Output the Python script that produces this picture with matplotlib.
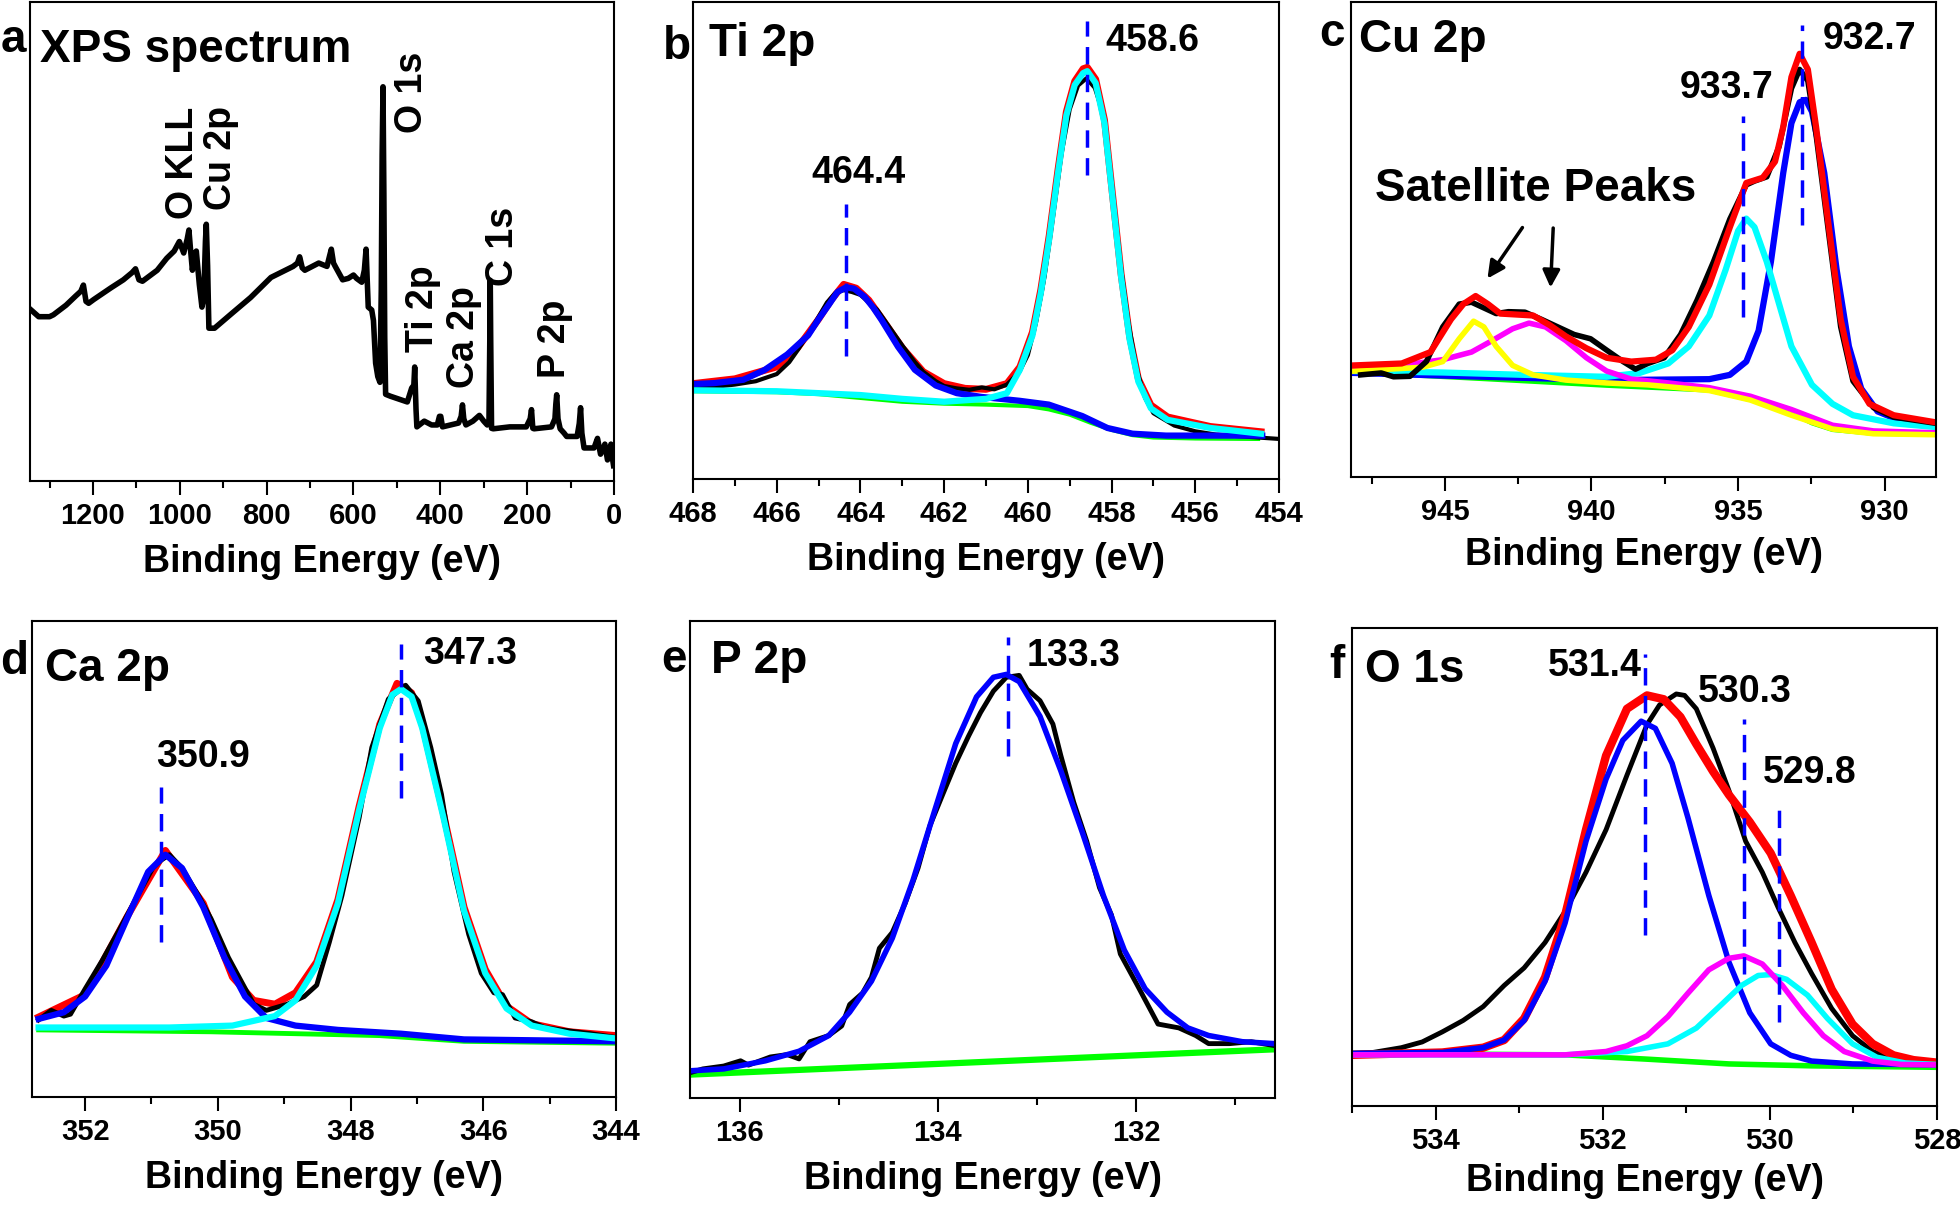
import matplotlib
matplotlib.use('Agg')
import matplotlib.pyplot as plt
from matplotlib import font_manager
from matplotlib.ticker import MultipleLocator

# fonts: bold Arial look-alikes, narrow one for ticks/axis labels if present
names = {f.name for f in font_manager.fontManager.ttflist}
if 'Liberation Sans Narrow' in names:
    NARROW, TICK_FS, XLAB_FS = 'Liberation Sans Narrow', 24.5, 32
else:
    NARROW, TICK_FS, XLAB_FS = 'Liberation Sans', 21, 27
BOLD = 'Liberation Sans'

BLACK, RED, BLUE, CYAN = '#000000', '#ff0000', '#0000ff', '#00ffff'
GREEN, MAGENTA, YELLOW = '#00ff00', '#ff00ff', '#ffff00'

# ---------------------------------------------------------------- a: survey
a_ev = [1345, 1325, 1300, 1291, 1262, 1240, 1228, 1222, 1216, 1210, 1198, 1159, 1130, 1110, 1102,
        1094, 1086, 1052, 1030, 1013, 1001, 991, 983, 979, 975, 971, 966, 962, 955, 949, 945, 941,
        939, 936, 933, 920, 880, 837, 790, 739, 729, 724, 718, 712, 680, 661, 655, 651, 646, 642,
        625, 612, 600, 593, 581, 575, 571, 566, 558, 554, 549, 544, 539, 536, 534, 532, 530, 528,
        526, 515, 476, 466, 461, 459, 456, 454, 437, 420, 407, 402, 399, 395, 358, 352, 349, 346,
        341, 325, 310, 300, 292, 288, 286, 285, 284, 282, 278, 240, 202, 193, 190, 187, 184, 144,
        136, 134, 132, 129, 124, 115, 109, 85, 80, 77, 74, 69, 46, 38, 34, 31, 26, 21, 15, 10, 7, 4, 1]
a_int = [35.9, 34.3, 34.3, 34.7, 36.7, 38.6, 39.6, 40.9, 37.5, 37.1, 37.9, 40.3, 42.0, 43.5, 44.3,
         42.0, 41.7, 44.0, 46.5, 48.0, 50.0, 47.6, 50.5, 52.4, 48.0, 44.0, 47.5, 48.0, 41.0, 36.3, 38.0, 50.0,
         53.6, 45.0, 31.9, 31.9, 35.0, 38.3, 42.5, 44.8, 45.5, 46.8, 44.5, 44.0, 45.5, 44.8, 47.0, 48.4, 45.5, 44.8,
         42.0, 42.3, 43.0, 42.3, 41.5, 44.0, 48.4, 36.3, 35.7, 33.5, 24.6, 21.8, 20.6, 40.0, 68.1, 82.3, 60.0, 30.0,
         18.1, 17.7, 16.5, 19.4, 20.0, 23.8, 15.0, 11.3, 12.5, 11.7, 11.7, 13.5, 13.5, 11.3, 12.1, 13.5, 15.9, 13.0,
         11.7, 12.5, 13.7, 12.5, 11.7, 12.0, 30.0, 41.9, 30.0, 11.0, 10.9, 11.3, 11.3, 13.0, 14.9, 11.0, 10.9, 11.3,
         13.0, 16.0, 18.0, 13.0, 10.9, 10.0, 9.3, 9.3, 12.0, 15.3, 10.0, 6.9, 6.9, 8.9, 7.0, 5.6, 6.5, 7.7, 4.4, 5.5, 7.7, 5.0, 3.2]
a_tags = ['O KLL', 'Cu 2p', 'O 1s', 'Ti 2p', 'Ca 2p', 'C 1s', 'P 2p']
a_tag_ev = [993, 905, 466, 441, 346, 256, 136]
a_tag_y = [54.8, 56.5, 72.6, 27.0, 19.4, 40.7, 21.4]

# ---------------------------------------------------------------- b: Ti 2p
b_black_ev = [468, 467.5, 467, 466.5, 466, 465.7, 465.5, 465.2, 465, 464.8, 464.6, 464.4, 464.2, 464.0,
              463.8, 463.6, 463.4, 463.2, 463, 462.7, 462.5, 462.2, 462, 461.7, 461.4, 461.1, 460.8,
              460.5, 460.2, 460, 459.8, 459.6, 459.4, 459.2, 459.0, 458.8, 458.6, 458.4, 458.2, 458.0,
              457.8, 457.6, 457.4, 457.2, 457.0, 456.5, 456, 455.5, 455, 454.5, 454]
b_black = [19.5, 19.3, 19.8, 20.5, 22.0, 24.5, 27.0, 31.0, 34.0, 37.0, 39.0, 39.6, 39.2, 38.6,
           37.0, 35.5, 33.0, 30.5, 28.0, 24.5, 22.5, 20.5, 19.5, 19.0, 18.7, 19.2, 18.8,
           19.8, 22.5, 26.0, 33.0, 42.5, 55.0, 68.0, 77.5, 82.5, 84.0, 82.0, 76.5, 62.5,
           46.0, 33.0, 23.0, 17.0, 13.8, 11.2, 10.0, 9.3, 9.0, 8.7, 8.4]
b_red_ev = [468, 467, 466, 465.5, 465, 464.7, 464.4, 464.1, 463.8, 463.5, 463, 462.5, 462, 461.5, 461,
            460.5, 460.19, 459.89, 459.69, 459.49, 459.28, 459.08, 458.88, 458.68, 458.58, 458.38,
            458.17, 457.97, 457.77, 457.57, 457.36, 457.06, 456.66, 455.64, 454.43]
b_red = [20.0, 21.0, 23.5, 27.5, 33.5, 37.5, 40.8, 40.0, 37.5, 33.8, 27.5, 22.5, 20.0, 19.0, 18.8,
         20.0, 23.5, 30.8, 39.7, 51.0, 64.8, 77.0, 83.4, 86.0, 86.3, 83.8,
         75.3, 59.0, 42.8, 30.0, 21.0, 15.5, 13.0, 11.0, 9.9]
b_blue_ev = [468, 467.5, 466.8, 466.3, 465.75, 465.25, 465.0, 464.75, 464.55, 464.34, 464.15, 463.9,
             463.7, 463.5, 463.1, 462.7, 462.2, 461.7, 461.1, 460.2, 459.5, 458.7, 458.1, 457.5, 456.7, 454.4]
b_blue = [19.9, 20.1, 20.8, 22.8, 26.1, 30.1, 33.5, 36.6, 39.2, 40.2, 39.9, 38.2,
          36.0, 33.4, 27.7, 22.9, 19.6, 18.0, 17.2, 16.4, 15.6, 13.2, 10.7, 9.5, 9.1, 9.1]
b_cyan_ev = [468, 466, 464, 463, 462, 461, 460.5, 460.19, 459.89, 459.69, 459.49, 459.28, 459.08,
             458.88, 458.68, 458.58, 458.38, 458.17, 457.97, 457.77, 457.57, 457.36, 457.06, 456.66,
             455.64, 454.43]
b_cyan = [18.6, 18.4, 17.6, 16.8, 16.2, 16.8, 18.0, 22.9, 30.1, 39.0, 50.3, 64.1, 76.2,
          82.6, 85.1, 85.5, 83.0, 74.6, 58.4, 42.2, 29.3, 20.4, 14.8, 12.4, 10.7, 9.5]
b_green_ev = [468, 466, 465, 464, 463, 462, 461, 460, 459.5, 459, 458.5, 458, 457.5, 457, 456, 454.5]
b_green = [18.4, 18.2, 17.8, 17.0, 16.2, 15.8, 15.6, 15.3, 14.6, 13.5, 11.8, 10.3, 9.2, 8.7, 8.5, 8.4]
b_mark_ev = [464.35, 458.58]
b_mark_lo = [25.7, 63.7]
b_mark_hi = [57.6, 96.0]
b_labels = ['464.4', '458.6']
b_label_ev = [464.04, 457.03]
b_label_y = [64.1, 91.9]

# ---------------------------------------------------------------- c: Cu 2p
c_black_ev = [947.87, 947.17, 946.75, 946.19, 945.63, 945.07, 944.51, 944.09, 943.67, 943.25, 942.83,
              942.27, 941.71, 941.15, 940.59, 940.03, 939.48, 938.92, 938.5, 938.08, 937.52, 936.96,
              936.4, 935.84, 935.28, 934.72, 934.44, 934.02, 933.6, 933.18, 932.9, 932.62, 932.34,
              931.92, 931.5, 931.08, 930.38, 929.69, 928.25]
c_black = [21.5, 21.9, 21.1, 21.2, 24.3, 31.6, 36.4, 36.8, 35.6, 34.4, 34.8,
           34.7, 33.2, 31.6, 30.0, 29.1, 26.7, 24.3, 22.7, 23.9, 25.1, 30.0,
           37.2, 45.3, 54.3, 61.5, 62.3, 63.2, 69.6, 81.8, 85.8, 83.4, 72.1,
           51.8, 31.6, 20.2, 14.6, 12.6, 11.3]
c_red_ev = [948.08, 946.47, 945.49, 944.79, 944.37, 943.95, 943.53, 943.11, 942.55, 941.99, 941.43,
            940.87, 940.17, 939.48, 938.64, 937.8, 937.24, 936.68, 935.98, 935.28, 934.72, 934.16,
            933.74, 933.46, 933.18, 932.9, 932.62, 932.34, 931.92, 931.5, 931.08, 930.52, 929.69, 928.25]
c_red = [23.5, 23.9, 26.3, 33.2, 36.4, 38.1, 36.4, 34.4, 34.2, 34.0, 32.0,
         29.6, 27.1, 25.1, 24.3, 24.7, 26.7, 31.6, 40.5, 52.6, 61.9, 63.0,
         66.4, 73.7, 84.2, 89.1, 85.8, 73.7, 53.4, 33.2, 21.1, 15.4, 13.0, 11.5]
c_blue_ev = [948.08, 943.67, 939.48, 935.98, 935.28, 934.72, 934.3, 933.88, 933.46, 933.18, 932.9,
             932.69, 932.48, 932.06, 931.64, 931.22, 930.8, 930.24, 929.41, 928.25]
c_blue = [21.9, 21.1, 20.4, 20.6, 21.5, 24.3, 30.8, 45.3, 64.0, 74.5, 78.9,
          79.4, 76.9, 64.0, 43.7, 27.5, 18.6, 13.8, 11.7, 10.7]
c_cyan_ev = [948.08, 945.07, 942.27, 939.48, 938.36, 937.38, 936.68, 935.98, 935.42, 935.0, 934.72,
             934.44, 934.02, 933.6, 933.18, 932.48, 931.78, 931.08, 929.69, 928.25]
c_cyan = [22.3, 22.0, 21.5, 21.1, 21.9, 23.9, 27.5, 34.0, 43.7, 51.8, 54.4,
          52.6, 45.3, 36.4, 27.5, 19.4, 15.4, 13.0, 11.3, 10.5]
c_mag_ev = [948.08, 946.47, 945.07, 944.09, 943.39, 942.69, 942.13, 941.57, 940.87, 940.17, 939.48,
            938.64, 937.38, 935.98, 934.58, 933.18, 931.78, 930.38, 928.25]
c_mag = [22.7, 23.5, 24.7, 26.3, 28.7, 31.2, 32.4, 31.6, 28.7, 25.1, 22.3,
         20.6, 19.8, 18.8, 17.0, 14.2, 10.9, 9.7, 9.3]
c_yel_ev = [948.08, 945.77, 945.07, 944.51, 944.02, 943.67, 943.25, 942.69, 941.99, 940.87, 939.48,
            938.08, 935.98, 934.58, 933.18, 931.78, 930.38, 928.25]
c_yel = [22.3, 23.1, 24.3, 29.1, 32.8, 31.6, 27.5, 23.5, 21.5, 20.4, 19.8,
         19.4, 18.2, 16.2, 13.0, 10.1, 9.1, 8.9]
c_green_ev = [948.08, 943.67, 939.48, 935.98, 934.58, 933.18, 932.48, 931.78, 930.38, 928.25]
c_green = [22.0, 20.6, 19.2, 18.2, 16.2, 13.4, 11.3, 9.9, 9.1, 8.9]
c_mark_ev = [932.83, 934.83]
c_mark_lo = [53.0, 33.6]
c_mark_hi = [95.1, 76.1]
c_labels = ['932.7', '933.7']
c_label_ev = [930.5, 935.4]
c_label_y = [92.3, 81.8]

# ---------------------------------------------------------------- d: Ca 2p
d_black_ev = [352.7, 352.51, 352.32, 352.22, 352.0, 351.75, 351.49, 351.24, 350.98, 350.86, 350.73,
              350.54, 350.29, 350.1, 349.84, 349.65, 349.46, 349.27, 348.95, 348.7, 348.51, 348.32,
              348.13, 347.87, 347.68, 347.43, 347.17, 346.98, 346.79, 346.63, 346.44, 346.22, 346.03,
              345.84, 345.71, 345.52, 345.27, 345.08, 344.83, 344.38, 344.0]
d_black = [16.2, 18.2, 17.0, 17.4, 22.7, 28.5, 35.0, 41.5, 48.1, 49.7, 50.9,
           48.1, 42.3, 37.4, 29.3, 24.4, 19.5, 18.2, 19.5, 21.1, 23.5, 32.5,
           42.3, 58.7, 73.4, 83.6, 86.5, 83.2, 73.4, 63.6, 47.3, 34.2, 26.0,
           21.9, 21.5, 16.6, 15.8, 14.6, 14.1, 13.3, 12.5]
d_red_ev = [352.7, 352.0, 351.37, 350.79, 350.22, 349.78, 349.46, 349.14, 348.83, 348.51, 348.19,
            347.87, 347.56, 347.3, 347.08, 346.92, 346.6, 346.29, 345.97, 345.65, 345.27, 344.7, 344.0]
d_red = [16.8, 21.5, 37.8, 51.8, 40.7, 25.2, 20.3, 19.5, 21.9, 28.4, 41.5,
         61.1, 78.3, 86.9, 84.9, 78.3, 59.5, 39.9, 26.8, 19.1, 15.4, 13.7, 12.9]
d_blue_ev = [352.7, 352.32, 352.0, 351.68, 351.37, 351.05, 350.79, 350.54, 350.22, 349.9, 349.59,
             349.27, 348.83, 348.19, 347.24, 346.29, 344.0]
d_blue = [16.4, 17.8, 21.1, 27.6, 37.4, 47.3, 50.9, 48.1, 39.9, 29.3, 21.1,
          16.6, 15.0, 14.1, 13.3, 12.1, 11.7]
d_cyan_ev = [352.7, 350.73, 349.78, 349.14, 348.83, 348.51, 348.19, 347.87, 347.56, 347.37, 347.24,
             347.08, 346.92, 346.6, 346.29, 345.97, 345.65, 345.27, 344.7, 344.0]
d_cyan = [14.6, 14.6, 15.0, 17.0, 20.3, 27.6, 40.7, 60.3, 77.5, 84.5, 85.7,
          84.1, 77.5, 58.7, 39.1, 26.0, 18.6, 15.0, 13.3, 12.3]
d_green_ev = [352.7, 350.1, 347.56, 346.29, 344.0]
d_green = [14.1, 13.7, 12.9, 11.7, 11.3]
d_mark_ev = [350.86, 347.24]
d_mark_lo = [32.5, 62.8]
d_mark_hi = [65.2, 95.1]
d_labels = ['350.9', '347.3']
d_label_ev = [350.23, 346.2]
d_label_y = [71.4, 93.0]

# ---------------------------------------------------------------- e: P 2p
e_black_ev = [136.5, 136.37, 136.16, 135.99, 135.91, 135.69, 135.52, 135.4, 135.29, 135.1, 134.97,
              134.89, 134.76, 134.67, 134.59, 134.46, 134.33, 134.2, 134.08, 133.95, 133.82, 133.69,
              133.57, 133.44, 133.31, 133.18, 133.1, 132.97, 132.84, 132.76, 132.63, 132.5, 132.37,
              132.25, 132.16, 131.99, 131.78, 131.57, 131.4, 131.27, 131.06, 130.84, 130.61]
e_black = [5.3, 6.1, 6.7, 7.8, 6.9, 8.6, 9.1, 8.2, 11.8, 13.1, 15.1,
           19.6, 22.0, 25.3, 31.4, 34.7, 40.8, 48.2, 57.1, 63.7, 70.2, 75.9,
           80.8, 85.3, 88.2, 88.6, 85.7, 83.3, 78.4, 71.8, 62.0, 53.9, 44.1,
           38.4, 30.2, 23.7, 15.5, 14.7, 13.1, 11.4, 11.4, 11.8, 11.0]
e_blue_ev = [136.5, 136.16, 135.74, 135.4, 135.1, 134.89, 134.67, 134.46, 134.25, 134.03, 133.82,
             133.61, 133.44, 133.31, 133.18, 132.97, 132.76, 132.54, 132.33, 132.12, 131.91, 131.69,
             131.48, 131.27, 130.93, 130.61]
e_blue = [5.7, 6.1, 7.8, 9.8, 13.1, 18.0, 24.5, 33.5, 45.7, 60.4, 74.3,
          84.1, 88.2, 88.8, 87.3, 80.0, 68.6, 55.5, 42.4, 31.0, 22.9, 18.0,
          14.7, 13.1, 11.8, 11.4]
e_green_ev = [136.5, 130.61]
e_green = [4.9, 10.2]
e_mark_ev = [133.29]
e_mark_lo = [71.8]
e_mark_hi = [96.7]
e_labels = ['133.3']
e_label_ev = [132.63]
e_label_y = [92.7]

# ---------------------------------------------------------------- f: O 1s
f_black_ev = [535.01, 534.75, 534.41, 534.16, 533.92, 533.67, 533.43, 533.18, 532.94, 532.69, 532.45,
              532.2, 531.96, 531.71, 531.47, 531.32, 531.12, 531.02, 530.88, 530.68, 530.49, 530.29,
              530.09, 529.9, 529.7, 529.5, 529.26, 529.01, 528.77, 528.43, 528.01]
f_black = [11.0, 11.2, 12.2, 13.4, 15.5, 17.9, 20.8, 25.2, 28.9, 34.2, 40.7,
           48.9, 57.8, 69.2, 79.8, 83.9, 86.2, 85.9, 83.1, 74.9, 66.0, 55.4,
           48.9, 41.5, 34.2, 27.7, 20.4, 14.7, 11.4, 9.4, 8.8]
f_red_ev = [535.01, 533.92, 533.43, 533.18, 532.94, 532.69, 532.45, 532.2, 531.96, 531.71, 531.47,
            531.27, 531.07, 530.88, 530.68, 530.49, 530.24, 529.99, 529.75, 529.5, 529.26, 529.01,
            528.77, 528.52, 528.28, 528.01]
f_red = [10.7, 11.2, 12.2, 13.8, 18.3, 26.9, 39.9, 57.8, 73.3, 83.1, 85.9,
         85.1, 81.4, 75.7, 70.0, 65.1, 59.4, 52.9, 44.0, 34.2, 24.4, 17.1,
         13.0, 10.6, 9.6, 9.1]
f_blue_ev = [535.01, 533.92, 533.43, 533.18, 532.94, 532.69, 532.45, 532.2, 531.96, 531.76, 531.54,
             531.37, 531.17, 530.98, 530.73, 530.49, 530.24, 529.99, 529.75, 529.5, 529.01, 528.01]
f_blue = [11.0, 11.2, 12.2, 13.8, 17.9, 26.1, 38.3, 55.4, 68.4, 76.5, 80.5,
          79.0, 71.7, 60.3, 44.0, 30.1, 19.5, 13.0, 10.6, 9.4, 8.8, 8.6]
f_mag_ev = [535.01, 532.45, 531.96, 531.71, 531.47, 531.22, 530.98, 530.73, 530.49, 530.31, 530.09,
            529.85, 529.6, 529.36, 529.11, 528.77, 528.43, 528.01]
f_mag = [10.7, 10.7, 11.4, 12.6, 14.7, 18.7, 23.6, 28.5, 30.9, 31.4, 29.7,
         25.2, 19.5, 14.7, 11.4, 9.4, 8.7, 8.6]
f_cyan_ev = [535.01, 532.45, 531.71, 531.22, 530.88, 530.58, 530.34, 530.14, 529.99, 529.8, 529.55,
             529.31, 529.01, 528.72, 528.38, 528.01]
f_cyan = [10.7, 10.7, 11.4, 13.0, 16.3, 21.2, 25.2, 27.3, 27.5, 26.5, 23.2,
          18.3, 13.0, 10.2, 9.0, 8.7]
f_green_ev = [535.01, 532.45, 531.47, 530.49, 529.5, 528.01]
f_green = [11.0, 10.7, 9.8, 8.8, 8.4, 8.1]
f_mark_ev = [531.49, 530.31, 529.89]
f_mark_lo = [35.8, 27.7, 17.5]
f_mark_hi = [94.5, 81.0, 63.9]
f_labels = ['531.4', '530.3', '529.8']
f_label_ev = [532.1, 530.3, 529.53]
f_label_y = [92.0, 86.7, 69.6]


def setup(ax, xlim, major, minor, title, tx, ty, lpad=10):
    ax.set_xlim(*xlim)
    ax.set_ylim(0, 100)
    ax.set_yticks([])
    ax.xaxis.set_major_locator(MultipleLocator(major))
    ax.xaxis.set_minor_locator(MultipleLocator(minor))
    ax.tick_params(axis='x', which='major', direction='out', length=10, width=1.5, pad=5)
    ax.tick_params(axis='x', which='minor', direction='out', length=5, width=1.5)
    for lab in ax.get_xticklabels():
        lab.set_fontfamily(NARROW)
        lab.set_fontweight('bold')
        lab.set_fontsize(TICK_FS)
    for sp in ax.spines.values():
        sp.set_linewidth(1.5)
    ax.set_xlabel('Binding Energy (eV)', fontfamily=NARROW, fontweight='bold',
                  fontsize=XLAB_FS, labelpad=lpad)
    ax.text(tx, ty, title, transform=ax.transAxes, fontfamily=BOLD, fontweight='bold',
            fontsize=33, ha='left', va='baseline')


def marks(ax, ev, lo, hi, labels, lev, ly):
    for e, y0, y1 in zip(ev, lo, hi):
        ax.plot([e, e], [y0, y1], color=BLUE, lw=2.5, ls=(0, (5, 3)), zorder=10)
    for t, x, y in zip(labels, lev, ly):
        ax.text(x, y, t, fontfamily=BOLD, fontweight='bold', fontsize=27,
                ha='center', va='center', zorder=11)


fig = plt.figure(figsize=(19.6, 12.07), dpi=100)
W, H = 1960, 1207

def add_axes(l, r, t, b):
    return fig.add_axes([l / W, 1 - b / H, (r - l) / W, (b - t) / H])

ax_a = add_axes(30, 614, 2, 481)
ax_b = add_axes(693, 1279, 2, 479)
ax_c = add_axes(1351, 1936, 2, 477)
ax_d = add_axes(32, 616, 621, 1097)
ax_e = add_axes(690, 1275, 621, 1098)
ax_f = add_axes(1352, 1937, 628, 1106)

# panel a
ax_a.plot(a_ev, a_int, color=BLACK, lw=4)
for t, x, y in zip(a_tags, a_tag_ev, a_tag_y):
    ax_a.text(x, y, t, rotation=90, ha='center', va='bottom', fontfamily=BOLD,
              fontweight='bold', fontsize=27)
ax_a.set_xticks([1200, 1000, 800, 600, 400, 200, 0])
setup(ax_a, (1345, 0), 200, 100, 'XPS spectrum', 0.017, 0.875)

# panel b
ax_b.plot(b_green_ev, b_green, color=GREEN, lw=3)
ax_b.plot(b_red_ev, b_red, color=RED, lw=5)
ax_b.plot(b_black_ev, b_black, color=BLACK, lw=3)
ax_b.plot(b_blue_ev, b_blue, color=BLUE, lw=4.5)
ax_b.plot(b_cyan_ev, b_cyan, color=CYAN, lw=4.5)
marks(ax_b, b_mark_ev, b_mark_lo, b_mark_hi, b_labels, b_label_ev, b_label_y)
setup(ax_b, (468, 454), 2, 1, 'Ti 2p', 0.027, 0.887)

# panel c
ax_c.plot(c_green_ev, c_green, color=GREEN, lw=3)
ax_c.plot(c_blue_ev, c_blue, color=BLUE, lw=4.5)
ax_c.plot(c_cyan_ev, c_cyan, color=CYAN, lw=4.5)
ax_c.plot(c_mag_ev, c_mag, color=MAGENTA, lw=4)
ax_c.plot(c_yel_ev, c_yel, color=YELLOW, lw=4)
ax_c.plot(c_black_ev, c_black, color=BLACK, lw=4)
ax_c.plot(c_red_ev, c_red, color=RED, lw=4.5)
marks(ax_c, c_mark_ev, c_mark_lo, c_mark_hi, c_labels, c_label_ev, c_label_y)
ax_c.text(941.9, 60.7, 'Satellite Peaks', fontfamily=BOLD, fontweight='bold', fontsize=33,
          ha='center', va='center')
ax_c.annotate('', xy=(943.6, 41.3), xytext=(942.3, 53.0),
              arrowprops=dict(arrowstyle='-|>', color=BLACK, lw=2.5, mutation_scale=26))
ax_c.annotate('', xy=(941.4, 39.3), xytext=(941.3, 53.0),
              arrowprops=dict(arrowstyle='-|>', color=BLACK, lw=2.5, mutation_scale=26))
setup(ax_c, (948.2, 928.25), 5, 2.5, 'Cu 2p', 0.014, 0.895, lpad=8)

# panel d
ax_d.plot(d_green_ev, d_green, color=GREEN, lw=3.5)
ax_d.plot(d_red_ev, d_red, color=RED, lw=5)
ax_d.plot(d_black_ev, d_black, color=BLACK, lw=3.5)
ax_d.plot(d_blue_ev, d_blue, color=BLUE, lw=4.5)
ax_d.plot(d_cyan_ev, d_cyan, color=CYAN, lw=4.5)
marks(ax_d, d_mark_ev, d_mark_lo, d_mark_hi, d_labels, d_label_ev, d_label_y)
setup(ax_d, (352.8, 344), 2, 1, 'Ca 2p', 0.022, 0.873)

# panel e
ax_e.plot(e_green_ev, e_green, color=GREEN, lw=4.5)
ax_e.plot(e_black_ev, e_black, color=BLACK, lw=3.5)
ax_e.plot(e_blue_ev, e_blue, color=BLUE, lw=4)
marks(ax_e, e_mark_ev, e_mark_lo, e_mark_hi, e_labels, e_label_ev, e_label_y)
setup(ax_e, (136.5, 130.6), 2, 1, 'P 2p', 0.036, 0.89)

# panel f
ax_f.plot(f_green_ev, f_green, color=GREEN, lw=4)
ax_f.plot(f_black_ev, f_black, color=BLACK, lw=3.5)
ax_f.plot(f_red_ev, f_red, color=RED, lw=6)
ax_f.plot(f_blue_ev, f_blue, color=BLUE, lw=4)
ax_f.plot(f_cyan_ev, f_cyan, color=CYAN, lw=4)
ax_f.plot(f_mag_ev, f_mag, color=MAGENTA, lw=4)
marks(ax_f, f_mark_ev, f_mark_lo, f_mark_hi, f_labels, f_label_ev, f_label_y)
setup(ax_f, (535, 528), 2, 1, 'O 1s', 0.023, 0.888, lpad=6)

# panel letters, right edge just left of each frame
letters = ['a', 'b', 'c', 'd', 'e', 'f']
letter_x = [26, 691, 1345, 28, 687, 1345]
letter_base = [52, 59, 46, 674, 672, 678]
for t, x, y in zip(letters, letter_x, letter_base):
    fig.text(x / W, 1 - y / H, t, fontfamily=BOLD, fontweight='bold', fontsize=33,
             ha='right', va='baseline')

fig.savefig('out.png', dpi=100)
